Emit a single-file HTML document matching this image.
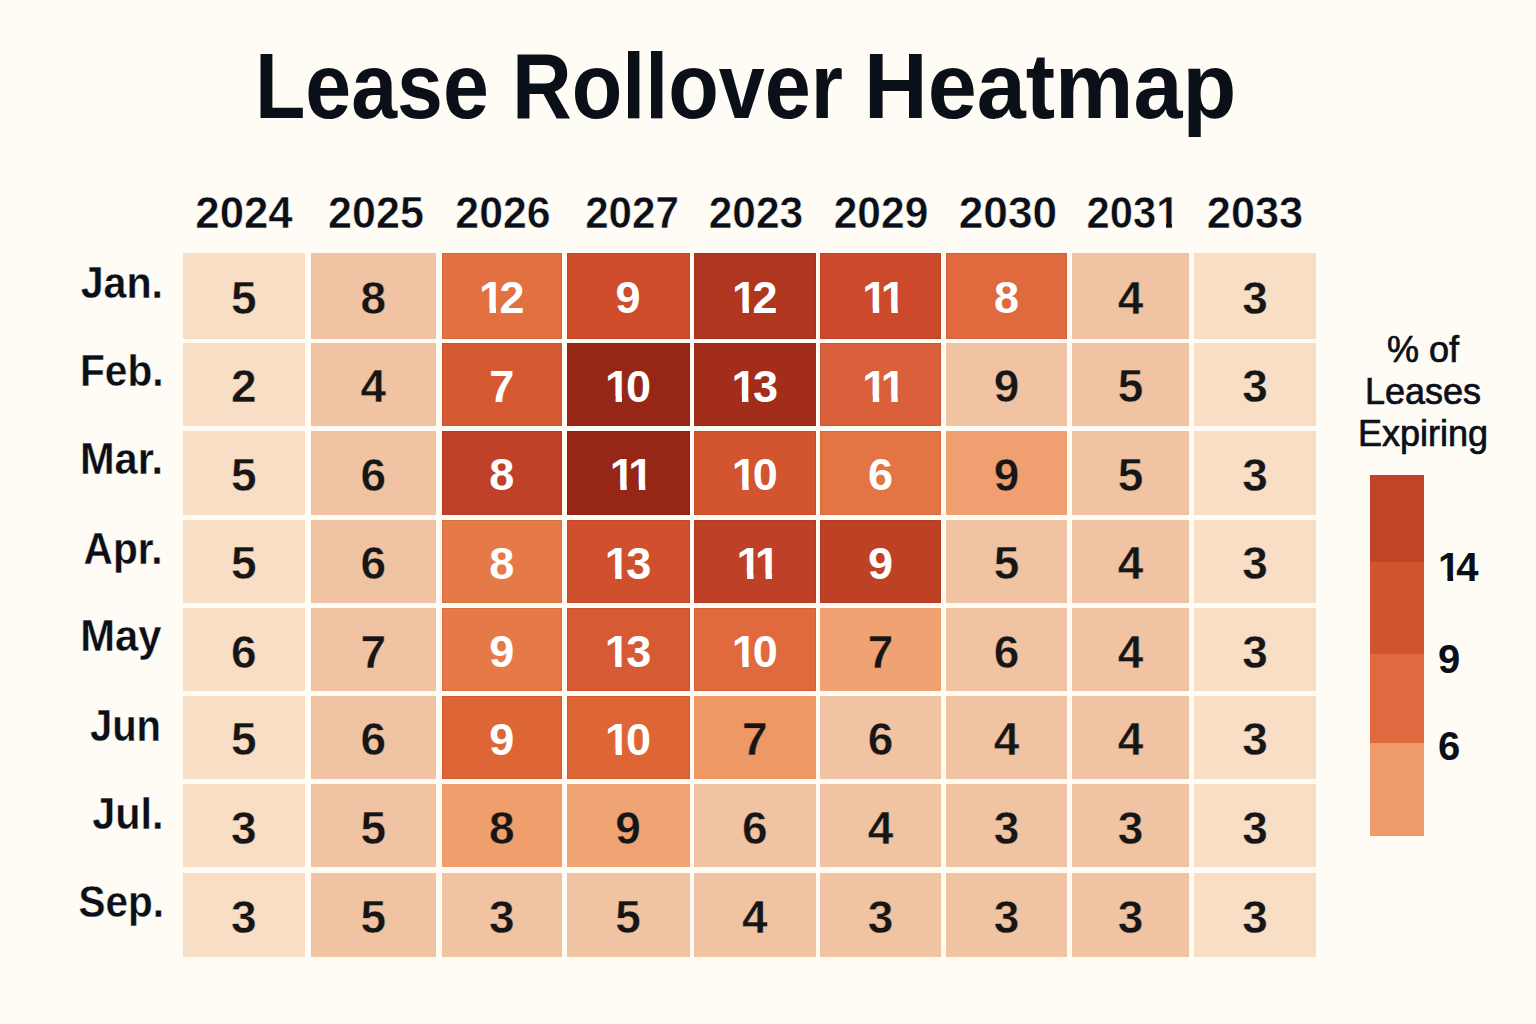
<!DOCTYPE html>
<html><head><meta charset="utf-8"><title>Lease Rollover Heatmap</title>
<style>
html,body{margin:0;padding:0;}
body{width:1536px;height:1024px;background:#fffbf5;position:relative;overflow:hidden;font-family:"Liberation Sans",Arial,sans-serif;color:#0b0f17;}
.t{position:absolute;white-space:nowrap;line-height:1;}
.ttl{font-weight:700;font-size:92px;transform-origin:0 0;}
.yr{font-weight:700;font-size:44px;letter-spacing:0px;-webkit-text-stroke:0.5px #fffbf5;}
.mo{font-weight:700;font-size:45px;transform-origin:100% 0;-webkit-text-stroke:0.35px #fffbf5;}
.c{position:absolute;}
.cell{box-shadow:inset 0 0 0 1px rgba(110,20,0,0.10);}
.n{position:absolute;left:0;right:0;text-align:center;font-weight:700;font-size:46px;line-height:1;color:#161616;}
.w{color:#fff;font-size:45px;}
.one{display:inline-block;clip-path:polygon(0 0,100% 0,100% 0.725em,0.379em 0.725em,0.379em 100%,0.236em 100%,0.236em 0.725em,0 0.725em);}
.lg{font-size:36px;font-weight:400;text-align:center;-webkit-text-stroke:0.7px #0b0f17;}
.ln{font-weight:700;font-size:40px;}
</style></head><body>
<div class="t ttl" style="left:254.7px;top:40px;transform:scaleX(0.896);">Lease</div>
<div class="t ttl" style="left:512.0px;top:40px;transform:scaleX(0.899);">Rollover</div>
<div class="t ttl" style="left:863.6px;top:40px;transform:scaleX(0.958);">Heatmap</div>
<div class="t yr" style="left:183.7px;width:120px;text-align:center;top:191px;transform:scaleX(0.995);">2024</div>
<div class="t yr" style="left:315.5px;width:120px;text-align:center;top:191px;transform:scaleX(0.979);">2025</div>
<div class="t yr" style="left:443.1px;width:120px;text-align:center;top:191px;transform:scaleX(0.973);">2026</div>
<div class="t yr" style="left:572.0px;width:120px;text-align:center;top:191px;transform:scaleX(0.957);">2027</div>
<div class="t yr" style="left:695.6px;width:120px;text-align:center;top:191px;transform:scaleX(0.965);">2023</div>
<div class="t yr" style="left:821.3px;width:120px;text-align:center;top:191px;transform:scaleX(0.966);">2029</div>
<div class="t yr" style="left:948.3px;width:120px;text-align:center;top:191px;transform:scaleX(1.006);">2030</div>
<div class="t yr" style="left:1072.8px;width:120px;text-align:center;top:191px;transform:scaleX(0.948);">203<span class="one">1</span></div>
<div class="t yr" style="left:1195.0px;width:120px;text-align:center;top:191px;transform:scaleX(0.984);">2033</div>
<div class="t mo" style="right:1372.7px;top:259.9px;transform:scaleX(0.915);">Jan.</div>
<div class="t mo" style="right:1372.8px;top:347.7px;transform:scaleX(0.902);">Feb.</div>
<div class="t mo" style="right:1372.7px;top:436.3px;transform:scaleX(0.923);">Mar.</div>
<div class="t mo" style="right:1373.3px;top:525.5px;transform:scaleX(0.902);">Apr.</div>
<div class="t mo" style="right:1374.4px;top:613.3px;transform:scaleX(0.928);">May</div>
<div class="t mo" style="right:1374.5px;top:703.0px;transform:scaleX(0.889);">Jun</div>
<div class="t mo" style="right:1372.2px;top:791.2px;transform:scaleX(0.92);">Jul.</div>
<div class="t mo" style="right:1371.7px;top:879.0px;transform:scaleX(0.899);">Sep.</div>
<div class="c" style="left:182.5px;top:252.7px;width:122.5px;height:86.3px;background:#f7dec5;"><div class="n" style="top:22.2px;-webkit-text-stroke:0.45px #f7dec5;">5</div></div>
<div class="c" style="left:310.5px;top:252.7px;width:125.5px;height:86.3px;background:#f0c4a3;"><div class="n" style="top:22.2px;-webkit-text-stroke:0.45px #f0c4a3;">8</div></div>
<div class="c cell" style="left:441.5px;top:252.7px;width:120.5px;height:86.3px;background:#e27040;"><div class="n w" style="top:22.6px;"><span class="one" style="margin-right:-4.5px">1</span>2</div></div>
<div class="c cell" style="left:566.5px;top:252.7px;width:123.0px;height:86.3px;background:#cf4d2c;"><div class="n w" style="top:22.6px;">9</div></div>
<div class="c cell" style="left:694px;top:252.7px;width:121.5px;height:86.3px;background:#b0361f;"><div class="n w" style="top:22.6px;"><span class="one" style="margin-right:-4.5px">1</span>2</div></div>
<div class="c cell" style="left:820px;top:252.7px;width:121.0px;height:86.3px;background:#cc4a2b;"><div class="n w" style="top:22.6px;padding-left:7px;"><span class="one" style="margin-right:-6.5px">1</span><span class="one" style="margin-right:0px">1</span></div></div>
<div class="c cell" style="left:946px;top:252.7px;width:121.0px;height:86.3px;background:#e06a3e;"><div class="n w" style="top:22.6px;">8</div></div>
<div class="c" style="left:1072px;top:252.7px;width:117.0px;height:86.3px;background:#f0c4a3;"><div class="n" style="top:22.2px;-webkit-text-stroke:0.45px #f0c4a3;">4</div></div>
<div class="c" style="left:1194px;top:252.7px;width:122.0px;height:86.3px;background:#f7dec5;"><div class="n" style="top:22.2px;-webkit-text-stroke:0.45px #f7dec5;">3</div></div>
<div class="c" style="left:182.5px;top:343px;width:122.5px;height:82.5px;background:#f7dec5;"><div class="n" style="top:20.2px;-webkit-text-stroke:0.45px #f7dec5;">2</div></div>
<div class="c" style="left:310.5px;top:343px;width:125.5px;height:82.5px;background:#f0c4a3;"><div class="n" style="top:20.2px;-webkit-text-stroke:0.45px #f0c4a3;">4</div></div>
<div class="c cell" style="left:441.5px;top:343px;width:120.5px;height:82.5px;background:#d55a32;"><div class="n w" style="top:20.6px;">7</div></div>
<div class="c cell" style="left:566.5px;top:343px;width:123.0px;height:82.5px;background:#962616;"><div class="n w" style="top:20.6px;"><span class="one" style="margin-right:-4px">1</span>0</div></div>
<div class="c cell" style="left:694px;top:343px;width:121.5px;height:82.5px;background:#a22d1a;"><div class="n w" style="top:20.6px;"><span class="one" style="margin-right:-3.4px">1</span>3</div></div>
<div class="c cell" style="left:820px;top:343px;width:121.0px;height:82.5px;background:#d9603a;"><div class="n w" style="top:20.6px;padding-left:7px;"><span class="one" style="margin-right:-6.5px">1</span><span class="one" style="margin-right:0px">1</span></div></div>
<div class="c" style="left:946px;top:343px;width:121.0px;height:82.5px;background:#f0c4a3;"><div class="n" style="top:20.2px;-webkit-text-stroke:0.45px #f0c4a3;">9</div></div>
<div class="c" style="left:1072px;top:343px;width:117.0px;height:82.5px;background:#f0c4a3;"><div class="n" style="top:20.2px;-webkit-text-stroke:0.45px #f0c4a3;">5</div></div>
<div class="c" style="left:1194px;top:343px;width:122.0px;height:82.5px;background:#f7dec5;"><div class="n" style="top:20.2px;-webkit-text-stroke:0.45px #f7dec5;">3</div></div>
<div class="c" style="left:182.5px;top:430.5px;width:122.5px;height:84.5px;background:#f7dec5;"><div class="n" style="top:21.2px;-webkit-text-stroke:0.45px #f7dec5;">5</div></div>
<div class="c" style="left:310.5px;top:430.5px;width:125.5px;height:84.5px;background:#f0c4a3;"><div class="n" style="top:21.2px;-webkit-text-stroke:0.45px #f0c4a3;">6</div></div>
<div class="c cell" style="left:441.5px;top:430.5px;width:120.5px;height:84.5px;background:#c0412a;"><div class="n w" style="top:21.6px;">8</div></div>
<div class="c cell" style="left:566.5px;top:430.5px;width:123.0px;height:84.5px;background:#962616;"><div class="n w" style="top:21.6px;padding-left:7px;"><span class="one" style="margin-right:-6.5px">1</span><span class="one" style="margin-right:0px">1</span></div></div>
<div class="c cell" style="left:694px;top:430.5px;width:121.5px;height:84.5px;background:#d3552f;"><div class="n w" style="top:21.6px;"><span class="one" style="margin-right:-4px">1</span>0</div></div>
<div class="c cell" style="left:820px;top:430.5px;width:121.0px;height:84.5px;background:#e37545;"><div class="n w" style="top:21.6px;">6</div></div>
<div class="c" style="left:946px;top:430.5px;width:121.0px;height:84.5px;background:#f0a070;"><div class="n" style="top:21.2px;-webkit-text-stroke:0.45px #f0a070;">9</div></div>
<div class="c" style="left:1072px;top:430.5px;width:117.0px;height:84.5px;background:#f0c4a3;"><div class="n" style="top:21.2px;-webkit-text-stroke:0.45px #f0c4a3;">5</div></div>
<div class="c" style="left:1194px;top:430.5px;width:122.0px;height:84.5px;background:#f7dec5;"><div class="n" style="top:21.2px;-webkit-text-stroke:0.45px #f7dec5;">3</div></div>
<div class="c" style="left:182.5px;top:519.8px;width:122.5px;height:83.2px;background:#f7dec5;"><div class="n" style="top:20.6px;-webkit-text-stroke:0.45px #f7dec5;">5</div></div>
<div class="c" style="left:310.5px;top:519.8px;width:125.5px;height:83.2px;background:#f0c4a3;"><div class="n" style="top:20.6px;-webkit-text-stroke:0.45px #f0c4a3;">6</div></div>
<div class="c cell" style="left:441.5px;top:519.8px;width:120.5px;height:83.2px;background:#e57a48;"><div class="n w" style="top:21.0px;">8</div></div>
<div class="c cell" style="left:566.5px;top:519.8px;width:123.0px;height:83.2px;background:#d0502e;"><div class="n w" style="top:21.0px;"><span class="one" style="margin-right:-3.4px">1</span>3</div></div>
<div class="c cell" style="left:694px;top:519.8px;width:121.5px;height:83.2px;background:#be4127;"><div class="n w" style="top:21.0px;padding-left:7px;"><span class="one" style="margin-right:-6.5px">1</span><span class="one" style="margin-right:0px">1</span></div></div>
<div class="c cell" style="left:820px;top:519.8px;width:121.0px;height:83.2px;background:#be4126;"><div class="n w" style="top:21.0px;">9</div></div>
<div class="c" style="left:946px;top:519.8px;width:121.0px;height:83.2px;background:#f0c4a3;"><div class="n" style="top:20.6px;-webkit-text-stroke:0.45px #f0c4a3;">5</div></div>
<div class="c" style="left:1072px;top:519.8px;width:117.0px;height:83.2px;background:#f0c4a3;"><div class="n" style="top:20.6px;-webkit-text-stroke:0.45px #f0c4a3;">4</div></div>
<div class="c" style="left:1194px;top:519.8px;width:122.0px;height:83.2px;background:#f7dec5;"><div class="n" style="top:20.6px;-webkit-text-stroke:0.45px #f7dec5;">3</div></div>
<div class="c" style="left:182.5px;top:608px;width:122.5px;height:83.2px;background:#f7dec5;"><div class="n" style="top:20.6px;-webkit-text-stroke:0.45px #f7dec5;">6</div></div>
<div class="c" style="left:310.5px;top:608px;width:125.5px;height:83.2px;background:#f0c4a3;"><div class="n" style="top:20.6px;-webkit-text-stroke:0.45px #f0c4a3;">7</div></div>
<div class="c cell" style="left:441.5px;top:608px;width:120.5px;height:83.2px;background:#e57a48;"><div class="n w" style="top:21.0px;">9</div></div>
<div class="c cell" style="left:566.5px;top:608px;width:123.0px;height:83.2px;background:#d65a33;"><div class="n w" style="top:21.0px;"><span class="one" style="margin-right:-3.4px">1</span>3</div></div>
<div class="c cell" style="left:694px;top:608px;width:121.5px;height:83.2px;background:#e06a3e;"><div class="n w" style="top:21.0px;"><span class="one" style="margin-right:-4px">1</span>0</div></div>
<div class="c" style="left:820px;top:608px;width:121.0px;height:83.2px;background:#f0a272;"><div class="n" style="top:20.6px;-webkit-text-stroke:0.45px #f0a272;">7</div></div>
<div class="c" style="left:946px;top:608px;width:121.0px;height:83.2px;background:#f0c4a3;"><div class="n" style="top:20.6px;-webkit-text-stroke:0.45px #f0c4a3;">6</div></div>
<div class="c" style="left:1072px;top:608px;width:117.0px;height:83.2px;background:#f0c4a3;"><div class="n" style="top:20.6px;-webkit-text-stroke:0.45px #f0c4a3;">4</div></div>
<div class="c" style="left:1194px;top:608px;width:122.0px;height:83.2px;background:#f7dec5;"><div class="n" style="top:20.6px;-webkit-text-stroke:0.45px #f7dec5;">3</div></div>
<div class="c" style="left:182.5px;top:696.2px;width:122.5px;height:82.5px;background:#f7dec5;"><div class="n" style="top:20.2px;-webkit-text-stroke:0.45px #f7dec5;">5</div></div>
<div class="c" style="left:310.5px;top:696.2px;width:125.5px;height:82.5px;background:#f0c4a3;"><div class="n" style="top:20.2px;-webkit-text-stroke:0.45px #f0c4a3;">6</div></div>
<div class="c cell" style="left:441.5px;top:696.2px;width:120.5px;height:82.5px;background:#de6535;"><div class="n w" style="top:20.6px;">9</div></div>
<div class="c cell" style="left:566.5px;top:696.2px;width:123.0px;height:82.5px;background:#de6535;"><div class="n w" style="top:20.6px;"><span class="one" style="margin-right:-4px">1</span>0</div></div>
<div class="c" style="left:694px;top:696.2px;width:121.5px;height:82.5px;background:#ee9866;"><div class="n" style="top:20.2px;-webkit-text-stroke:0.45px #ee9866;">7</div></div>
<div class="c" style="left:820px;top:696.2px;width:121.0px;height:82.5px;background:#f0c4a3;"><div class="n" style="top:20.2px;-webkit-text-stroke:0.45px #f0c4a3;">6</div></div>
<div class="c" style="left:946px;top:696.2px;width:121.0px;height:82.5px;background:#f0c4a3;"><div class="n" style="top:20.2px;-webkit-text-stroke:0.45px #f0c4a3;">4</div></div>
<div class="c" style="left:1072px;top:696.2px;width:117.0px;height:82.5px;background:#f0c4a3;"><div class="n" style="top:20.2px;-webkit-text-stroke:0.45px #f0c4a3;">4</div></div>
<div class="c" style="left:1194px;top:696.2px;width:122.0px;height:82.5px;background:#f7dec5;"><div class="n" style="top:20.2px;-webkit-text-stroke:0.45px #f7dec5;">3</div></div>
<div class="c" style="left:182.5px;top:783.8px;width:122.5px;height:83.5px;background:#f7dec5;"><div class="n" style="top:20.8px;-webkit-text-stroke:0.45px #f7dec5;">3</div></div>
<div class="c" style="left:310.5px;top:783.8px;width:125.5px;height:83.5px;background:#f0c4a3;"><div class="n" style="top:20.8px;-webkit-text-stroke:0.45px #f0c4a3;">5</div></div>
<div class="c" style="left:441.5px;top:783.8px;width:120.5px;height:83.5px;background:#f09e6c;"><div class="n" style="top:20.8px;-webkit-text-stroke:0.45px #f09e6c;">8</div></div>
<div class="c" style="left:566.5px;top:783.8px;width:123.0px;height:83.5px;background:#f0a474;"><div class="n" style="top:20.8px;-webkit-text-stroke:0.45px #f0a474;">9</div></div>
<div class="c" style="left:694px;top:783.8px;width:121.5px;height:83.5px;background:#f0c4a3;"><div class="n" style="top:20.8px;-webkit-text-stroke:0.45px #f0c4a3;">6</div></div>
<div class="c" style="left:820px;top:783.8px;width:121.0px;height:83.5px;background:#f0c4a3;"><div class="n" style="top:20.8px;-webkit-text-stroke:0.45px #f0c4a3;">4</div></div>
<div class="c" style="left:946px;top:783.8px;width:121.0px;height:83.5px;background:#f0c4a3;"><div class="n" style="top:20.8px;-webkit-text-stroke:0.45px #f0c4a3;">3</div></div>
<div class="c" style="left:1072px;top:783.8px;width:117.0px;height:83.5px;background:#f0c4a3;"><div class="n" style="top:20.8px;-webkit-text-stroke:0.45px #f0c4a3;">3</div></div>
<div class="c" style="left:1194px;top:783.8px;width:122.0px;height:83.5px;background:#f7dec5;"><div class="n" style="top:20.8px;-webkit-text-stroke:0.45px #f7dec5;">3</div></div>
<div class="c" style="left:182.5px;top:872.5px;width:122.5px;height:84.0px;background:#f7dec5;"><div class="n" style="top:21.0px;-webkit-text-stroke:0.45px #f7dec5;">3</div></div>
<div class="c" style="left:310.5px;top:872.5px;width:125.5px;height:84.0px;background:#f0c4a3;"><div class="n" style="top:21.0px;-webkit-text-stroke:0.45px #f0c4a3;">5</div></div>
<div class="c" style="left:441.5px;top:872.5px;width:120.5px;height:84.0px;background:#f0c4a3;"><div class="n" style="top:21.0px;-webkit-text-stroke:0.45px #f0c4a3;">3</div></div>
<div class="c" style="left:566.5px;top:872.5px;width:123.0px;height:84.0px;background:#f0c4a3;"><div class="n" style="top:21.0px;-webkit-text-stroke:0.45px #f0c4a3;">5</div></div>
<div class="c" style="left:694px;top:872.5px;width:121.5px;height:84.0px;background:#f0c4a3;"><div class="n" style="top:21.0px;-webkit-text-stroke:0.45px #f0c4a3;">4</div></div>
<div class="c" style="left:820px;top:872.5px;width:121.0px;height:84.0px;background:#f0c4a3;"><div class="n" style="top:21.0px;-webkit-text-stroke:0.45px #f0c4a3;">3</div></div>
<div class="c" style="left:946px;top:872.5px;width:121.0px;height:84.0px;background:#f0c4a3;"><div class="n" style="top:21.0px;-webkit-text-stroke:0.45px #f0c4a3;">3</div></div>
<div class="c" style="left:1072px;top:872.5px;width:117.0px;height:84.0px;background:#f0c4a3;"><div class="n" style="top:21.0px;-webkit-text-stroke:0.45px #f0c4a3;">3</div></div>
<div class="c" style="left:1194px;top:872.5px;width:122.0px;height:84.0px;background:#f7dec5;"><div class="n" style="top:21.0px;-webkit-text-stroke:0.45px #f7dec5;">3</div></div>
<div class="t lg" style="left:1343px;width:160px;top:329px;line-height:42px;white-space:normal;">% of<br>Leases<br>Expiring</div>
<div class="c" style="left:1370.2px;top:475.2px;width:53.8px;height:361.2px;background:linear-gradient(to bottom,#c24428 0.0px 86.8px,#d25530 86.8px 179.0px,#e06a3f 179.0px 268.3px,#ee9a6a 268.3px 361.2px);"></div>
<div class="t ln" style="left:1438px;top:547.1px;"><span class="one" style="margin-right:-4px">1</span>4</div>
<div class="t ln" style="left:1438px;top:638.8px;">9</div>
<div class="t ln" style="left:1438px;top:726.3px;">6</div>
</body></html>
